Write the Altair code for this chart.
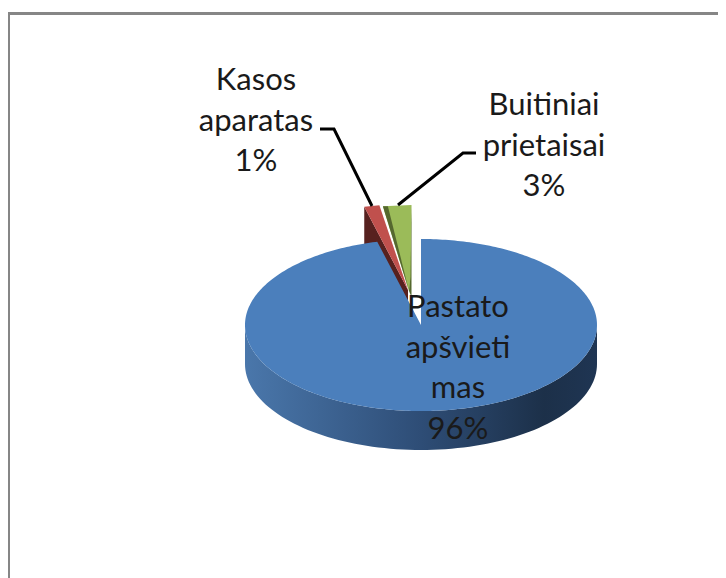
import math
import altair as alt
import pandas as pd

# Values
categories = ["Pastato apšvietimas", "Kasos aparatas", "Buitiniai prietaisai"]
shares = [96.0, 1.4, 2.6]
label_lines = [["Pastato", "apšvieti", "mas"], ["Kasos", "aparatas"], ["Buitiniai", "prietaisai"]]

# Picture geometry (reference pixel units)
W, H = 718, 578
CX, CY, RX, RY, DEPTH = 421, 325, 176, 86, 39
EXPLODE = {1: (-13, -35), 2: (-9.5, -34)}
GREEN_TIP_IN = 2.5
LABEL_AT = {0: (458, 308), 1: (256, 81), 2: (544, 106)}
LINE_H = 40.5
LEADERS = [[(320, 129), (334, 129), (372, 206)], [(476, 153), (463, 153), (398, 205)]]

BLUE, RED, GREEN = "#4b7fbc", "#c0504d", "#9bbb59"
DARK_RED, DARK_GREEN = "#57211f", "#55682f"

x_s = alt.Scale(domain=[8, W], nice=False, zero=False)
y_s = alt.Scale(domain=[H, 8], nice=False, zero=False)


def ell(deg, ox=0, oy=0):
    a = math.radians(deg)
    return (CX + ox + RX * math.sin(a), CY + oy - RY * math.cos(a))


def poly(points, fill):
    df = pd.DataFrame([{"x": p[0], "y": p[1], "i": i} for i, p in enumerate(points)])
    return (
        alt.Chart(df)
        .mark_line(interpolate="linear-closed", filled=True, fill=fill, strokeWidth=0, stroke="transparent")
        .encode(
            x=alt.X("x:Q", scale=x_s, axis=None),
            y=alt.Y("y:Q", scale=y_s, axis=None),
            order="i:Q",
        )
    )


total = sum(shares)
blue_end = shares[0] / total * 360
red_end = blue_end + shares[1] / total * 360

# blue wall
upper = [ell(d) for d in range(90, 271, 2)]
lower = [(x, y + DEPTH) for x, y in reversed(upper)]
wall_fill = alt.Gradient(
    gradient="linear", x1=0, x2=1, y1=0, y2=0,
    stops=[
        alt.GradientStop(offset=0, color="#4a77ab"),
        alt.GradientStop(offset=0.5, color="#2e4d76"),
        alt.GradientStop(offset=0.85, color="#1c3049"),
        alt.GradientStop(offset=1, color="#1f3553"),
    ],
)
blue_wall = poly(upper + lower, wall_fill)

# blue top
steps = int(blue_end)
blue_top = poly(
    [(CX, CY)] + [ell(d) for d in range(0, steps + 1)] + [ell(blue_end)],
    BLUE,
)

# red slice
rx, ry = EXPLODE[1]
r_apex = (CX + rx, CY + ry)
r_a, r_b = ell(blue_end, rx, ry), ell(red_end, rx, ry)
red_side = poly(
    [r_a, (r_a[0], r_a[1] + DEPTH), (r_apex[0], r_apex[1] + DEPTH), r_apex],
    DARK_RED,
)
red_top = poly([r_apex, r_a, r_b], RED)

# green slice: the point is pulled in, the right edge stays vertical
gx, gy = EXPLODE[2]
g_a, g_b = ell(red_end, gx, gy), ell(360, gx, gy)
g_apex = (CX + gx - GREEN_TIP_IN, CY + gy)
g_knee = (g_b[0], g_apex[1] - 14)
green_wall = poly([g_b, (g_b[0], g_apex[1] + 6), g_apex], DARK_GREEN)
green_top = poly([g_apex, g_a, g_b, (g_b[0] - 1, g_knee[1])], GREEN)
green_cut = poly([g_apex, g_a, (g_a[0] + 5, g_a[1])], DARK_GREEN)

# frame
frame_color = "#868686"
frame_top = (
    alt.Chart(pd.DataFrame({"x": [8], "x2": [W], "y": [13.5]}))
    .mark_rule(color=frame_color, strokeWidth=3)
    .encode(x=alt.X("x:Q", scale=x_s, axis=None), x2="x2:Q", y=alt.Y("y:Q", scale=y_s, axis=None))
)
frame_left = (
    alt.Chart(pd.DataFrame({"x": [8.5], "y": [12], "y2": [H]}))
    .mark_rule(color=frame_color, strokeWidth=3)
    .encode(x=alt.X("x:Q", scale=x_s, axis=None), y=alt.Y("y:Q", scale=y_s, axis=None), y2="y2:Q")
)

# leaders
leader_rows = [
    {"x": p[0], "y": p[1], "i": i, "k": k}
    for k, line in enumerate(LEADERS)
    for i, p in enumerate(line)
]
leaders = (
    alt.Chart(pd.DataFrame(leader_rows))
    .mark_line(color="black", strokeWidth=3)
    .encode(
        x=alt.X("x:Q", scale=x_s, axis=None),
        y=alt.Y("y:Q", scale=y_s, axis=None),
        order="i:Q",
        detail="k:N",
    )
)

# labels
text_rows = []
for k, lines in enumerate(label_lines):
    x0, y0 = LABEL_AT[k]
    full = lines + [f"{round(shares[k] / total * 100)}%"]
    for j, t in enumerate(full):
        text_rows.append({"x": x0, "y": y0 + j * LINE_H, "t": t})
labels = (
    alt.Chart(pd.DataFrame(text_rows))
    .mark_text(font="Lato", fontSize=31, color="#1a1a1a", align="center", baseline="middle")
    .encode(
        x=alt.X("x:Q", scale=x_s, axis=None),
        y=alt.Y("y:Q", scale=y_s, axis=None),
        text="t:N",
    )
)

chart = (
    alt.layer(
        frame_top, frame_left, blue_wall, red_side, blue_top, red_top,
        green_wall, green_top, green_cut, leaders, labels,
    )
    .properties(width=W - 8, height=H - 8, padding=0, autosize=alt.AutoSizeParams(type="none"))
    .configure_view(stroke=None)
)

chart.save("out.html", embed_options={"renderer": "svg", "actions": False})
